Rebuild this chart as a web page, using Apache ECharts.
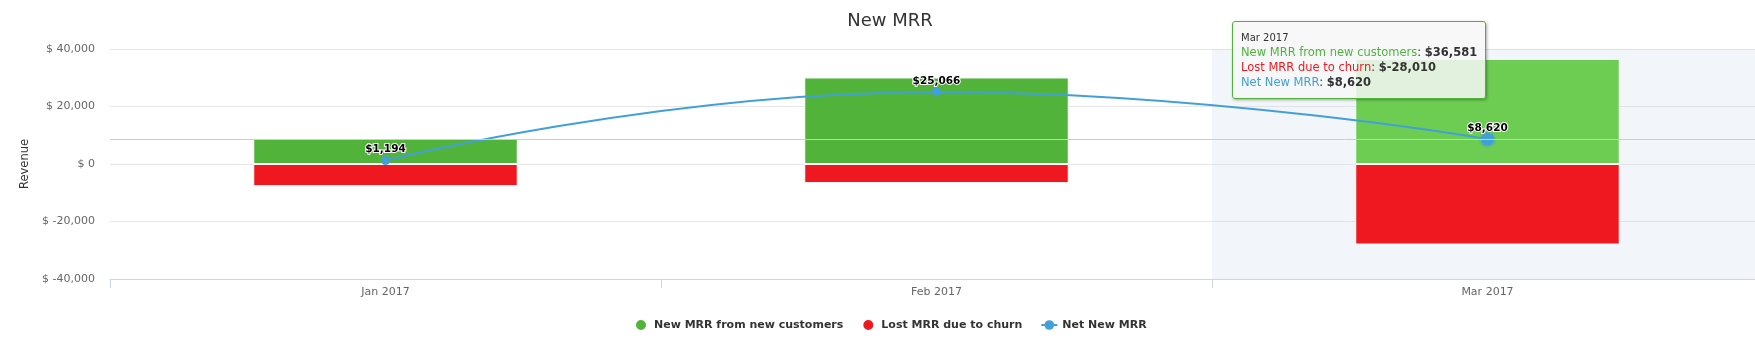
<!DOCTYPE html>
<html>
<head>
<meta charset="utf-8">
<script src="https://cdn.jsdelivr.net/npm/echarts@6/dist/echarts.min.js"></script>
<style>
  html, body { margin: 0; padding: 0; background: #fff; }
  #chart { width: 1755px; height: 345px; }
</style>
</head>
<body>
<div id="chart"></div>
<script>
// ---- data ----
const categories = ['Jan 2017', 'Feb 2017', 'Mar 2017'];
const newMRR = [8850, 30100, 36581];
const lostMRR = [-7700, -6650, -28010];
const netMRR = [1194, 25066, 8620];
const yTicks = [-40000, -20000, 0, 20000, 40000];
const hoverIndex = 2;

// ---- styles ----
const FONT = 'DejaVu Sans';
const GREEN = '#52b33a';
const GREEN_HOVER = '#6ccd52';
const RED = '#f01820';
const BLUE = '#42a0d9';

const yMin = yTicks[0];
const yMax = yTicks[yTicks.length - 1];
const yStep = yTicks[1] - yTicks[0];

function fmt(v) { return Math.round(v).toLocaleString('en-US'); }

const chart = echarts.init(document.getElementById('chart'), null, { renderer: 'canvas' });

const option = {
  animation: false,
  backgroundColor: '#ffffff',
  textStyle: { fontFamily: FONT },
  title: {
    text: 'New MRR',
    left: 890,
    textAlign: 'center',
    top: 12,
    padding: 0,
    textStyle: { fontFamily: FONT, fontSize: 18, fontWeight: 'normal', color: '#333333' }
  },
  grid: {
    left: 110, right: -8, top: 49, bottom: 66,
    containLabel: false, outerBoundsMode: 'none'
  },
  legend: {
    data: [
      { name: 'New MRR from new customers', icon: 'circle' },
      { name: 'Lost MRR due to churn', icon: 'circle' },
      { name: 'Net New MRR' }
    ],
    left: 634,
    top: 318,
    itemWidth: 16,
    itemHeight: 12,
    itemGap: 18,
    padding: 0,
    selectedMode: false,
    textStyle: { fontFamily: FONT, fontSize: 11, fontWeight: 'bold', color: '#333333' }
  },
  tooltip: {
    trigger: 'axis',
    triggerOn: 'none',
    alwaysShowContent: true,
    transitionDuration: 0,
    axisPointer: { type: 'none' },
    backgroundColor: 'rgba(247,247,247,0.85)',
    borderColor: GREEN,
    borderWidth: 1,
    padding: [8, 8],
    extraCssText: 'box-shadow: 1px 1px 3px rgba(0,0,0,0.35); border-radius: 3px;',
    textStyle: { fontFamily: FONT, fontSize: 11.5, color: '#333333' },
    position: function (point, params, dom, rect, size) {
      return [point[0] - size.contentSize[0] - 2, point[1] - size.contentSize[1] - 40];
    },
    formatter: function (params) {
      const names = ['New MRR from new customers', 'Lost MRR due to churn', 'Net New MRR'];
      const colors = [GREEN, RED, BLUE];
      const list = params.filter(p => names.indexOf(p.seriesName) >= 0);
      let html = '<div style="font-size:10px;line-height:15px;color:#333">' + list[0].axisValue + '</div>';
      names.forEach((n, i) => {
        const p = list.find(q => q.seriesName === n);
        if (!p) return;
        html += '<div style="line-height:15px;white-space:nowrap"><span style="color:' + colors[i] + '">' + n +
          '</span>: <b>$' + fmt(p.value) + '</b></div>';
      });
      return html;
    }
  },
  xAxis: [
    {
      type: 'category',
      data: categories,
      boundaryGap: true,
      axisLine: { show: true, onZero: false, lineStyle: { color: '#ccd6eb', width: 1 } },
      axisTick: { show: true, length: 9, lineStyle: { color: '#ccd6eb' } },
      axisLabel: { color: '#666666', fontFamily: FONT, fontSize: 11, margin: 8 },
      splitLine: { show: false }
    },
    {
      type: 'category',
      data: categories,
      boundaryGap: true,
      show: false,
      axisLine: { onZero: false }
    }
  ],
  yAxis: {
    type: 'value',
    min: yMin,
    max: yMax,
    interval: yStep,
    name: 'Revenue',
    nameLocation: 'middle',
    nameGap: 72,
    nameTextStyle: { fontFamily: FONT, fontSize: 11.5, color: '#333333' },
    axisLine: { show: false },
    axisTick: { show: false },
    axisLabel: {
      color: '#666666', fontFamily: FONT, fontSize: 11, margin: 15,
      formatter: v => '$ ' + fmt(v)
    },
    splitLine: { show: true, lineStyle: { color: '#e6e6e6', width: 1 } }
  },
  series: [
    {
      name: 'New MRR from new customers',
      type: 'bar',
      stack: 'mrr',
      barWidth: '48%',
      z: 2,
      emphasis: { disabled: true },
      itemStyle: { color: GREEN, borderColor: '#ffffff', borderWidth: 1 },
      data: newMRR.map((v, i) => i === hoverIndex ? { value: v, itemStyle: { color: GREEN_HOVER } } : v)
    },
    {
      name: 'Lost MRR due to churn',
      type: 'bar',
      stack: 'mrr',
      barWidth: '48%',
      z: 2,
      emphasis: { disabled: true },
      itemStyle: { color: RED, borderColor: '#ffffff', borderWidth: 1 },
      data: lostMRR
    },
    {
      name: 'Net New MRR',
      type: 'line',
      smooth: true,
      z: 4,
      symbol: 'circle',
      symbolSize: 9,
      showAllSymbol: true,
      emphasis: { disabled: true },
      lineStyle: { color: BLUE, width: 2 },
      itemStyle: { color: BLUE },
      label: {
        show: true,
        position: 'inside',
        offset: [0, -11],
        formatter: p => '$' + fmt(p.value),
        fontFamily: FONT,
        fontSize: 10.5,
        fontWeight: 'bold',
        color: '#000000',
        textBorderColor: '#ffffff',
        textBorderWidth: 2
      },
      data: netMRR.map((v, i) => i === hoverIndex ? {
        value: v,
        symbolSize: 12,
        itemStyle: { color: BLUE, borderColor: 'rgba(66,160,217,0.3)', borderWidth: 4 }
      } : v)
    },
    {
      name: 'hover-band-up',
      type: 'bar',
      xAxisIndex: 1,
      stack: 'band',
      barWidth: '100%',
      silent: true,
      z: 1,
      tooltip: { show: false },
      emphasis: { disabled: true },
      itemStyle: { color: 'rgba(204,214,235,0.25)' },
      data: categories.map((c, i) => i === hoverIndex ? yMax : null),
      markLine: {
        silent: true,
        symbol: ['none', 'none'],
        label: { show: false },
        lineStyle: { color: '#cccccc', width: 1, type: 'solid' },
        data: [{ yAxis: netMRR[hoverIndex] }]
      }
    },
    {
      name: 'hover-band-down',
      type: 'bar',
      xAxisIndex: 1,
      stack: 'band',
      barWidth: '100%',
      silent: true,
      z: 1,
      tooltip: { show: false },
      emphasis: { disabled: true },
      itemStyle: { color: 'rgba(204,214,235,0.25)' },
      data: categories.map((c, i) => i === hoverIndex ? yMin : null)
    }
  ]
};

chart.setOption(option);
chart.dispatchAction({ type: 'showTip', seriesIndex: 2, dataIndex: hoverIndex });
</script>
</body>
</html>
